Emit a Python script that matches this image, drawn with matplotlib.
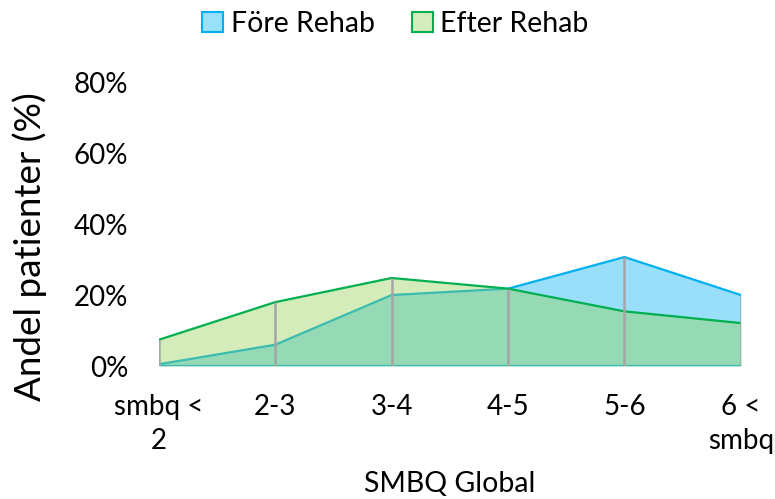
import matplotlib
matplotlib.use('Agg')
import matplotlib.pyplot as plt
import numpy as np
from matplotlib.patches import Patch

plt.rcParams['font.family'] = ['Lato', 'DejaVu Sans']

categories = ['smbq <\n2', '2-3', '3-4', '4-5', '5-6', '6 <\nsmbq']
fore = [0.5, 6.0, 20.0, 21.8, 30.7, 20.0]     # Före Rehab, %
efter = [7.4, 18.0, 24.8, 21.8, 15.4, 12.1]   # Efter Rehab, %

fig = plt.figure(figsize=(7.75, 4.99), dpi=100)
ax = fig.add_axes([0.205, 0.2665, 0.751, 0.569])

x = np.arange(len(categories))

# blue series behind, green on top (both semi transparent, like Excel)
ax.fill_between(x, 0, fore, color='#00B0F0', alpha=0.4, lw=0, zorder=1)
ax.plot(x, fore, color='#00B0F0', lw=1.6, zorder=2)
ax.plot(x, np.zeros(len(x)), color='#00B0F0', lw=1.6, zorder=2)
ax.fill_between(x, 0, efter, color='#92D050', alpha=0.4, lw=0, zorder=3)
ax.plot(x, efter, color='#00B050', lw=1.6, zorder=4)

# drop lines
top = np.maximum(fore, efter)
ax.vlines(x, 0, top, color='#A5A5A5', lw=1.8, zorder=5)

ax.set_xlim(0, len(x) - 1)
ax.set_ylim(0, 80)
ax.set_yticks([0, 20, 40, 60, 80])
ax.set_yticklabels(['0%', '20%', '40%', '60%', '80%'], fontsize=20)
ax.set_xticks(x)
ax.set_xticklabels(categories, fontsize=20, linespacing=1.4)
ax.tick_params(axis='y', length=0, pad=22)
ax.tick_params(axis='x', length=0, pad=20)
for s in ax.spines.values():
    s.set_visible(False)

ax.set_ylabel('Andel patienter (%)', fontsize=26.5)
ax.yaxis.set_label_coords(-0.193, 0.42)
ax.set_xlabel('SMBQ Global', fontsize=20.5, labelpad=12)

handles = [Patch(facecolor='#99E0F9', edgecolor='#00B0F0', lw=1.5, label='Före Rehab'),
           Patch(facecolor='#D5ECBD', edgecolor='#00B050', lw=1.5, label='Efter Rehab')]
fig.legend(handles=handles, loc='center', bbox_to_anchor=(0.51, 0.952), ncol=2,
           frameon=False, fontsize=20.5, handlelength=0.75, handleheight=0.75,
           handletextpad=0.25, columnspacing=1.3)

fig.savefig('out.png', dpi=100)
